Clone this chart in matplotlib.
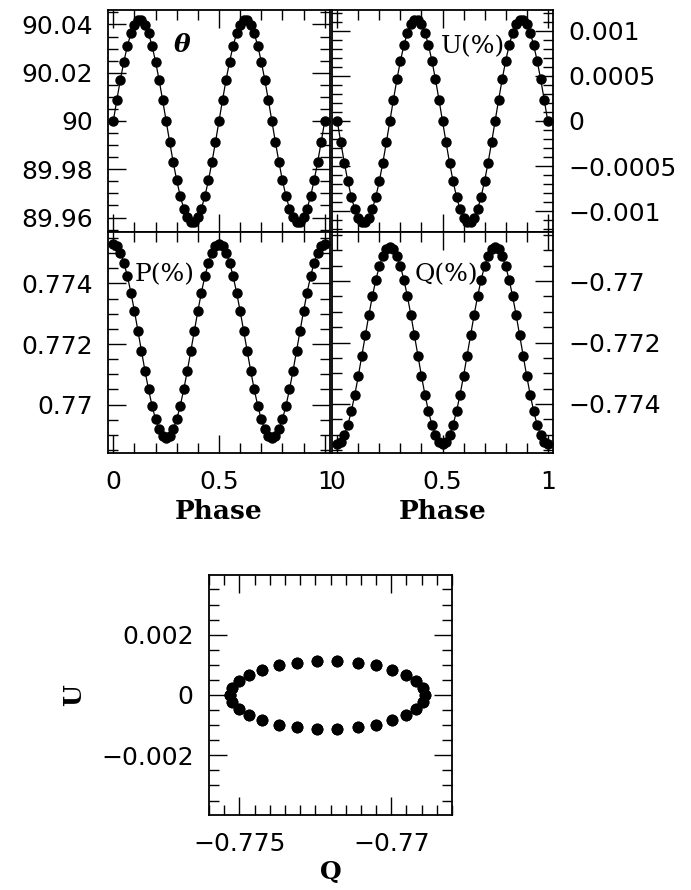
"""
Curvas de polarização ao longo da fase: θ, U, P e Q, mais o plano Q-U.

Saída:
    out.png
"""
import matplotlib
matplotlib.use("Agg")
import matplotlib.pyplot as plt
import numpy as np
from matplotlib.ticker import MultipleLocator, FuncFormatter

# fase amostrada em 61 pontos (0 a 1, duas voltas no plano Q-U)
fase = np.linspace(0, 1, 61)

theta = [
    90.0000, 90.0087, 90.0170, 90.0246, 90.0311, 90.0363, 90.0398, 90.0417,
    90.0417, 90.0398, 90.0363, 90.0311, 90.0246, 90.0170, 90.0087, 90.0000,
    89.9913, 89.9830, 89.9754, 89.9689, 89.9637, 89.9602, 89.9583, 89.9583,
    89.9602, 89.9637, 89.9689, 89.9754, 89.9830, 89.9913, 90.0000,
    90.0087, 90.0170, 90.0246, 90.0311, 90.0363, 90.0398, 90.0417,
    90.0417, 90.0398, 90.0363, 90.0311, 90.0246, 90.0170, 90.0087, 90.0000,
    89.9913, 89.9830, 89.9754, 89.9689, 89.9637, 89.9602, 89.9583, 89.9583,
    89.9602, 89.9637, 89.9689, 89.9754, 89.9830, 89.9913, 90.0000,
]

u_pct = [
    0.0, -0.000235, -0.000460, -0.000664, -0.000840, -0.000979, -0.001075, -0.001124,
    -0.001124, -0.001075, -0.000979, -0.000840, -0.000664, -0.000460, -0.000235, 0.0,
    0.000235, 0.000460, 0.000664, 0.000840, 0.000979, 0.001075, 0.001124, 0.001124,
    0.001075, 0.000979, 0.000840, 0.000664, 0.000460, 0.000235, 0.0,
    -0.000235, -0.000460, -0.000664, -0.000840, -0.000979, -0.001075, -0.001124,
    -0.001124, -0.001075, -0.000979, -0.000840, -0.000664, -0.000460, -0.000235, 0.0,
    0.000235, 0.000460, 0.000664, 0.000840, 0.000979, 0.001075, 0.001124, 0.001124,
    0.001075, 0.000979, 0.000840, 0.000664, 0.000460, 0.000235, 0.0,
]

p_pct = [
    0.77530, 0.77523, 0.77502, 0.77469, 0.77424, 0.77370, 0.77309, 0.77243,
    0.77177, 0.77111, 0.77050, 0.76996, 0.76951, 0.76918, 0.76897, 0.76890,
    0.76897, 0.76918, 0.76951, 0.76996, 0.77050, 0.77111, 0.77177, 0.77243,
    0.77309, 0.77370, 0.77424, 0.77469, 0.77502, 0.77523, 0.77530,
    0.77523, 0.77502, 0.77469, 0.77424, 0.77370, 0.77309, 0.77243,
    0.77177, 0.77111, 0.77050, 0.76996, 0.76951, 0.76918, 0.76897, 0.76890,
    0.76897, 0.76918, 0.76951, 0.76996, 0.77050, 0.77111, 0.77177, 0.77243,
    0.77309, 0.77370, 0.77424, 0.77469, 0.77502, 0.77523, 0.77530,
]

q_pct = [
    -0.77530, -0.77523, -0.77502, -0.77469, -0.77424, -0.77370, -0.77309, -0.77243,
    -0.77177, -0.77111, -0.77050, -0.76996, -0.76951, -0.76918, -0.76897, -0.76890,
    -0.76897, -0.76918, -0.76951, -0.76996, -0.77050, -0.77111, -0.77177, -0.77243,
    -0.77309, -0.77370, -0.77424, -0.77469, -0.77502, -0.77523, -0.77530,
    -0.77523, -0.77502, -0.77469, -0.77424, -0.77370, -0.77309, -0.77243,
    -0.77177, -0.77111, -0.77050, -0.76996, -0.76951, -0.76918, -0.76897, -0.76890,
    -0.76897, -0.76918, -0.76951, -0.76996, -0.77050, -0.77111, -0.77177, -0.77243,
    -0.77309, -0.77370, -0.77424, -0.77469, -0.77502, -0.77523, -0.77530,
]

W, H = 691, 890
SERIF = "DejaVu Serif"


def caixa(x0, y0, x1, y1):
    # retângulo em pixels -> fração da figura
    return [x0 / W, 1 - y1 / H, (x1 - x0) / W, (y1 - y0) / H]


def rotulo(v, pos):
    s = f"{round(v, 7):g}"
    if s == "-0":
        s = "0"
    return s.replace("-", "\u2212")


def estilo(ax, xmaj, xmin, ymaj, ymin):
    ax.xaxis.set_major_locator(MultipleLocator(xmaj))
    ax.xaxis.set_minor_locator(MultipleLocator(xmin))
    ax.yaxis.set_major_locator(MultipleLocator(ymaj))
    ax.yaxis.set_minor_locator(MultipleLocator(ymin))
    ax.xaxis.set_major_formatter(FuncFormatter(rotulo))
    ax.yaxis.set_major_formatter(FuncFormatter(rotulo))
    ax.tick_params(which="both", direction="in", top=True, right=True,
                   width=1.0, labelsize=18, colors="k")
    ax.tick_params(axis="y", pad=11)
    ax.tick_params(axis="x", pad=12)
    ax.tick_params(which="major", length=13)
    ax.tick_params(which="minor", length=7)
    for s in ax.spines.values():
        s.set_linewidth(1.3)


fig = plt.figure(figsize=(W / 100, H / 100), dpi=100)

ax_t = fig.add_axes(caixa(108, 10, 330, 232))
ax_u = fig.add_axes(caixa(332, 10, 553, 232))
ax_p = fig.add_axes(caixa(108, 232, 330, 453))
ax_q = fig.add_axes(caixa(332, 232, 553, 453))
ax_e = fig.add_axes(caixa(209, 575, 452, 815))

curvas = [
    (ax_t, theta, (89.954, 90.046), 0.02, 0.005),
    (ax_u, u_pct, (-0.00123, 0.00123), 0.0005, 0.0001),
    (ax_p, p_pct, (0.7684, 0.7757), 0.002, 0.0005),
    (ax_q, q_pct, (-0.7756, -0.7684), 0.002, 0.0005),
]
for ax, y, lim, ymaj, ymin in curvas:
    ax.plot(fase, y, "-o", color="k", lw=0.9, ms=6.5)
    ax.set_xlim(-0.025, 1.025)
    ax.set_ylim(*lim)
    estilo(ax, 0.5, 0.1, ymaj, ymin)

for ax in (ax_t, ax_u):
    ax.tick_params(labelbottom=False)
for ax in (ax_u, ax_q):
    ax.tick_params(labelleft=False, labelright=True)
for ax in (ax_p, ax_q):
    ax.set_xlabel("Phase", fontfamily=SERIF, fontweight="bold", fontsize=19, labelpad=4)

ax_t.text(0.332, 0.842, "\u03b8", transform=ax_t.transAxes, ha="center", va="center",
          fontfamily=SERIF, fontstyle="italic", fontweight="bold", fontsize=18)
ax_u.text(0.64, 0.833, "U(%)", transform=ax_u.transAxes, ha="center", va="center",
          fontfamily=SERIF, fontsize=18)
ax_p.text(0.256, 0.805, "P(%)", transform=ax_p.transAxes, ha="center", va="center",
          fontfamily=SERIF, fontsize=18)
ax_q.text(0.518, 0.805, "Q(%)", transform=ax_q.transAxes, ha="center", va="center",
          fontfamily=SERIF, fontsize=18)

# plano Q-U
ax_e.plot(q_pct, u_pct, "o", color="k", ms=7.5)
ax_e.set_xlim(-0.776, -0.768)
ax_e.set_ylim(-0.00398, 0.00398)
estilo(ax_e, 0.005, 0.0005, 0.002, 0.0005)
ax_e.set_xlabel("Q", fontfamily=SERIF, fontweight="bold", fontsize=18, labelpad=3)
ax_e.set_ylabel("U", fontfamily=SERIF, fontweight="bold", fontsize=18, labelpad=11)

fig.savefig("out.png", dpi=100)
plt.close(fig)
